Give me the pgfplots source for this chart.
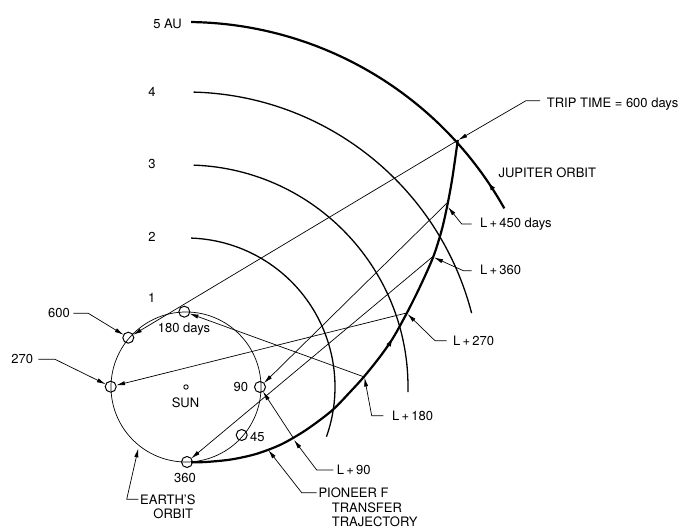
\documentclass[border=0pt]{standalone}
\usepackage{pgfplots}
\pgfplotsset{compat=1.18}
\usepackage{fontspec}
\setmainfont{TeX Gyre Heros}
\usetikzlibrary{arrows.meta,decorations.markings}

\begin{document}
\begin{tikzpicture}[
  lbl/.style={font=\fontsize{13bp}{15bp}\selectfont, inner sep=0pt, text height=9.3bp, text depth=0pt},
  arr/.style={-{Latex[length=9bp,width=4.2bp]}},
  thinl/.style={line width=0.7bp},
]
\begin{axis}[x=1bp,y=1bp,xmin=-186,xmax=500,ymin=-142,ymax=387,hide axis,clip=false]
\coordinate (BL) at (axis cs:-186,-142);
\coordinate (TR) at (axis cs:500,387);

% Earth orbit and distance arcs (centred on the Sun)
\draw[line width=0.7bp] (axis cs:0,0) circle[radius=75bp];
\draw[line width=1.3bp] (axis cs:0,0) ++(88:149bp) arc[start angle=88,end angle=-19.5,radius=149bp];
\draw[line width=1.3bp] (axis cs:0,0) ++(88:222bp) arc[start angle=88,end angle=-1.3,radius=222bp];
\draw[line width=1.3bp] (axis cs:0,0) ++(88.5:295bp) arc[start angle=88.5,end angle=14.5,radius=295bp];
% Jupiter orbit
\draw[line width=2.2bp, postaction={decorate},
  decoration={markings, mark=at position 0.085 with {\arrow{Latex[length=10bp,width=5bp]}}}]
  (axis cs:0,0) ++(29.3:365bp) arc[start angle=29.3,end angle=89.2,radius=365bp];

% Pioneer F transfer trajectory
\addplot[line width=2.2bp, smooth, postaction={decorate},
  decoration={markings, mark=at position 0.545 with {\arrow{Latex[length=10bp,width=5bp]}}}]
  coordinates {(5,-75.3) (20,-75) (45,-72.5) (70,-67) (95,-57.5) (120,-43) (146,-23.5) (165,-4) (178,10.3) (194,30.3) (207,49) (220.7,73.7) (234,100.3) (247.3,130.3) (256,158) (262,185) (266.5,210) (271.8,247)};

% Earth--probe lines (arrow at Earth)
\addplot[thinl, arr, shorten >=5.5bp] coordinates {(108,-52) (74,0)};
\addplot[thinl, arr, shorten >=5.5bp] coordinates {(177.5,10.3) (-1.7,75.3)};
\addplot[thinl, arr, shorten >=5.5bp] coordinates {(220.5,74) (-75.3,0.3)};
\addplot[thinl, arr, shorten >=5.5bp] coordinates {(246.7,130.3) (1,-75)};
\addplot[thinl, arr, shorten >=5.5bp] coordinates {(261,184) (74,0)};
\addplot[thinl, arr, shorten >=5.5bp] coordinates {(272.3,247) (-57.7,49.3)};

% Sun and Earth positions
\addplot[only marks, mark=o, mark size=2.2bp, line width=0.9bp] coordinates {(0,0)};
\addplot[only marks, mark=o, mark size=5.5bp, line width=1bp] coordinates {(1,-75) (55.7,-48) (74,0) (-1.7,75.3) (-75.3,0.3) (-57.7,49.3)};

% leaders
\draw[thinl, arr, shorten >=5.5bp] (axis cs:-112.7,73.7) -- (axis cs:-97.7,73.7) -- (axis cs:-57.7,49.3);
\draw[thinl, arr, shorten >=5.5bp] (axis cs:-147.7,27.7) -- (axis cs:-131,27.7) -- (axis cs:-75.3,0.3);
\draw[thinl, arr] (axis cs:-47.7,-112.3) -- (axis cs:-59.3,-112.3) -- (axis cs:-47.7,-61.3);
\draw[thinl, arr] (axis cs:130.7,-105.7) -- (axis cs:115.7,-105.7) -- (axis cs:82.3,-63);
\draw[thinl, arr] (axis cs:147.3,-83) -- (axis cs:130.7,-83) -- (axis cs:108,-53);
\draw[thinl, arr] (axis cs:197.3,-28.7) -- (axis cs:185.7,-28.7) -- (axis cs:178.5,9.5);
\draw[thinl, arr] (axis cs:260.7,46.3) -- (axis cs:249,46.3) -- (axis cs:221.5,73);
\draw[thinl, arr] (axis cs:285.7,116.3) -- (axis cs:277.3,116.3) -- (axis cs:248,129.5);
\draw[thinl, arr] (axis cs:285.7,163) -- (axis cs:275.7,163) -- (axis cs:262,180);
\draw[thinl, arr] (axis cs:354,286.3) -- (axis cs:340,286.3) -- (axis cs:272.3,247);

% labels
\node[lbl, anchor=east] at (axis cs:-4,363) {5 AU};
\node[lbl] at (axis cs:-34,295.3) {4};
\node[lbl] at (axis cs:-34,223) {3};
\node[lbl] at (axis cs:-34,150) {2};
\node[lbl] at (axis cs:-34.3,89.5) {1};
\node[lbl] at (axis cs:-2,58.7) {180 days};
\node[lbl] at (axis cs:-0.5,-16.3) {SUN};
\node[lbl, anchor=east] at (axis cs:62.3,-0.3) {90};
\node[lbl, anchor=west] at (axis cs:64,-49.7) {45};
\node[lbl] at (axis cs:-1,-91.3) {360};
\node[lbl, anchor=east] at (axis cs:-116,73.7) {600};
\node[lbl, anchor=east] at (axis cs:-152.7,27.7) {270};
\node[lbl, anchor=west] at (axis cs:-46,-113) {EARTH'S};
\node[lbl] at (axis cs:-12.7,-127) {ORBIT};
\node[lbl, anchor=west] at (axis cs:132.3,-106.3) {PIONEER F};
\node[lbl, anchor=west] at (axis cs:145.7,-121) {TRANSFER};
\node[lbl, anchor=west] at (axis cs:145.7,-135.2) {TRAJECTORY};
\node[lbl, anchor=west] at (axis cs:150.7,-83) {L\,+\,90};
\node[lbl, anchor=west] at (axis cs:206,-29) {L\,+\,180};
\node[lbl, anchor=west] at (axis cs:267,46.5) {L\,+\,270};
\node[lbl, anchor=west] at (axis cs:294,117) {L\,+\,360};
\node[lbl, anchor=west] at (axis cs:294,163.7) {L\,+\,450 days};
\node[lbl, anchor=west] at (axis cs:312.3,213.7) {JUPITER ORBIT};
\node[lbl, anchor=west] at (axis cs:360.7,283.7) {TRIP TIME = 600 days};
\end{axis}
\pgfresetboundingbox
\path[use as bounding box] (BL) rectangle (TR);
\end{tikzpicture}
\end{document}
